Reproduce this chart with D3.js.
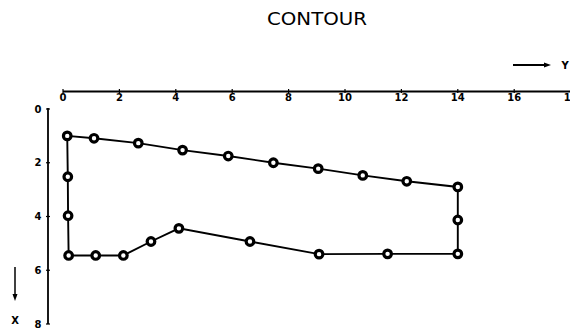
<!DOCTYPE html>
<meta charset="utf-8">
<style>
body { margin: 0; background: #fff; }
svg { display: block; font-family: "DejaVu Sans", sans-serif; }
.tick-lbl { font-size: 10px; font-weight: bold; }
</style>
<body>
<svg width="570" height="332"></svg>
<script src="https://d3js.org/d3.v7.min.js"></script>
<script>
// contour points: [Y (horizontal), X (vertical, downwards)]
var contourY = [0.15, 1.1, 2.67, 4.24, 5.86, 7.46, 9.05, 10.63, 12.19, 14.0,
                14.0, 14.0, 11.51, 9.08, 6.63, 4.11, 3.12, 2.14, 1.16, 0.2,
                0.18, 0.17, 0.15];
var contourX = [1.0, 1.09, 1.27, 1.53, 1.75, 2.0, 2.22, 2.47, 2.69, 2.9,
                4.13, 5.39, 5.39, 5.4, 4.93, 4.44, 4.93, 5.45, 5.45, 5.45,
                3.97, 2.52, 1.0];
var yTicks = [0, 2, 4, 6, 8, 10, 12, 14, 16, 18];
var xTicks = [0, 2, 4, 6, 8];

var svg = d3.select("svg");

var sy = d3.scaleLinear().domain([0, 18]).range([63, 570.6]);
var sx = d3.scaleLinear().domain([0, 8]).range([109, 324]);

// title
svg.append("text")
    .attr("x", 317).attr("y", 25)
    .attr("text-anchor", "middle")
    .attr("textLength", 100)
    .attr("lengthAdjust", "spacingAndGlyphs")
    .style("font-size", "18px")
    .text("CONTOUR");

// top axis (Y)
svg.append("line")
    .attr("x1", sy(0)).attr("x2", 570)
    .attr("y1", 91.5).attr("y2", 91.5)
    .attr("stroke", "#000").attr("stroke-width", 1.8);
svg.selectAll(".ytick").data(yTicks).enter().append("line")
    .attr("x1", function(d) { return sy(d); })
    .attr("x2", function(d) { return sy(d); })
    .attr("y1", 89).attr("y2", 93)
    .attr("stroke", "#000").attr("stroke-width", 1.2);
svg.selectAll(".ylbl").data(yTicks).enter().append("text")
    .attr("class", "tick-lbl")
    .attr("x", function(d) { return sy(d); })
    .attr("y", 101)
    .attr("text-anchor", "middle")
    .text(function(d) { return d; });

// left axis (X)
svg.append("line")
    .attr("x1", 48).attr("x2", 48)
    .attr("y1", sx(0) - 1).attr("y2", sx(8))
    .attr("stroke", "#000").attr("stroke-width", 1.8);
svg.selectAll(".xtick").data(xTicks).enter().append("line")
    .attr("x1", 46).attr("x2", 50)
    .attr("y1", function(d) { return sx(d); })
    .attr("y2", function(d) { return sx(d); })
    .attr("stroke", "#000").attr("stroke-width", 1.2);
svg.selectAll(".xlbl").data(xTicks).enter().append("text")
    .attr("class", "tick-lbl")
    .attr("x", 38)
    .attr("y", function(d) { return sx(d) + 3.5; })
    .attr("text-anchor", "middle")
    .text(function(d) { return d; });

// direction arrows
svg.append("line")
    .attr("x1", 513).attr("x2", 546).attr("y1", 65).attr("y2", 65)
    .attr("stroke", "#000").attr("stroke-width", 1.8);
svg.append("path")
    .attr("d", "M544,62.5 L551,65 L544,67.5 Z").attr("fill", "#000");
svg.append("text").attr("class", "tick-lbl")
    .attr("x", 565).attr("y", 69).attr("text-anchor", "middle").text("Y");

svg.append("line")
    .attr("x1", 15).attr("x2", 15).attr("y1", 267).attr("y2", 296)
    .attr("stroke", "#000").attr("stroke-width", 1.5);
svg.append("path")
    .attr("d", "M12.5,294 L15,301 L17.5,294 Z").attr("fill", "#000");
svg.append("text").attr("class", "tick-lbl")
    .attr("x", 15).attr("y", 324).attr("text-anchor", "middle").text("X");

// contour
var pts = contourY.map(function(v, i) { return [v, contourX[i]]; });
var line = d3.line()
    .x(function(d) { return sy(d[0]); })
    .y(function(d) { return sx(d[1]); });

svg.append("path")
    .datum(pts)
    .attr("fill", "none")
    .attr("stroke", "#000")
    .attr("stroke-width", 1.9)
    .attr("d", line);

svg.selectAll(".pt").data(pts.slice(0, pts.length - 1)).enter().append("circle")
    .attr("cx", function(d) { return sy(d[0]); })
    .attr("cy", function(d) { return sx(d[1]); })
    .attr("r", 3.8)
    .attr("fill", "#fff")
    .attr("stroke", "#000")
    .attr("stroke-width", 3.2);
</script>
</body>
